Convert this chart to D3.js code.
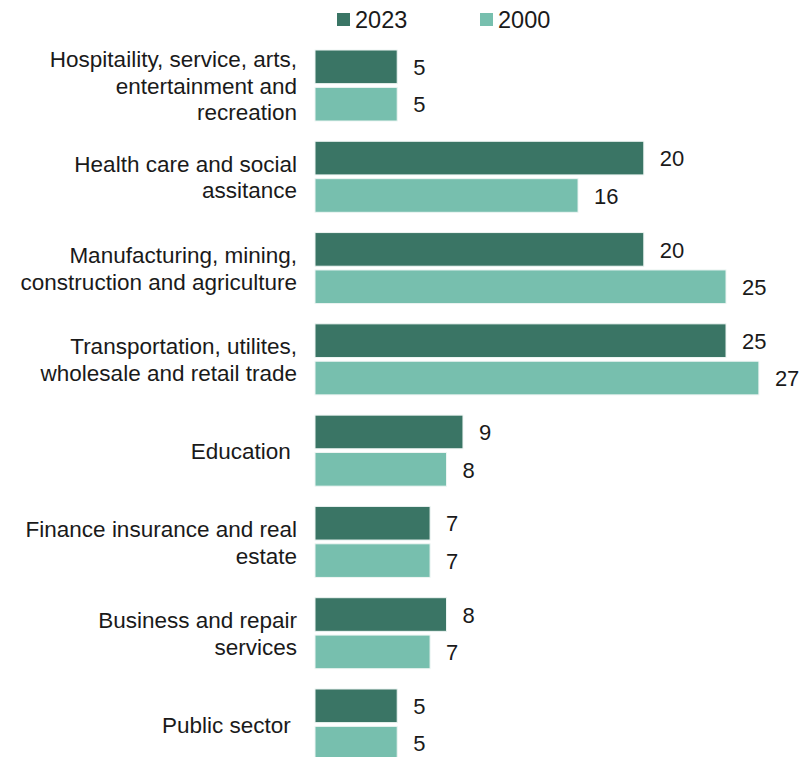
<!DOCTYPE html>
<html>
<head>
<meta charset="utf-8">
<script src="https://cdn.jsdelivr.net/npm/d3@7"></script>
<style>
  html, body { margin: 0; padding: 0; background: #fff; }
  svg { display: block; }
  text { font-family: "Liberation Sans", Arial, sans-serif; fill: #1a1a1a; white-space: pre; }
</style>
</head>
<body>
<svg id="chart" width="809" height="757"></svg>
<script>
// Industry categories, each split over several label lines
const categories = [
  "Hospitaility, service, arts,|entertainment and|recreation",
  "Health care and social|assitance",
  "Manufacturing, mining,|construction and agriculture",
  "Transportation, utilites,|wholesale and retail trade",
  "Education ",
  "Finance insurance and real|estate",
  "Business and repair|services",
  "Public sector "
];
const seriesNames = ["2023", "2000"];
const values2023 = [5, 20, 20, 25, 9, 7, 8, 5];
const values2000 = [5, 16, 25, 27, 8, 7, 7, 5];
const seriesColors = ["#3a7565", "#77bfae"];

const svg = d3.select("#chart");

const x = d3.scaleLinear().domain([0, 25]).range([315, 726]);

const y = d3.scaleBand()
  .domain(categories)
  .range([50, 760])
  .paddingInner(0.222)
  .paddingOuter(0);

const yInner = d3.scaleBand()
  .domain(seriesNames)
  .range([0, y.bandwidth()])
  .paddingInner(0.1);

const rows = categories.map((c, i) => ({
  cat: c,
  vals: [
    { s: "2023", v: values2023[i] },
    { s: "2000", v: values2000[i] }
  ]
}));

const color = d3.scaleOrdinal().domain(seriesNames).range(seriesColors);

const groups = svg.append("g").selectAll("g")
  .data(rows)
  .join("g")
  .attr("transform", d => `translate(0,${y(d.cat)})`);

groups.selectAll("rect")
  .data(d => d.vals)
  .join("rect")
  .attr("x", x(0))
  .attr("y", d => yInner(d.s))
  .attr("width", d => x(d.v) - x(0))
  .attr("height", yInner.bandwidth())
  .attr("fill", d => color(d.s))
  .attr("stroke", "#eef5f3")
  .attr("stroke-width", 1);

groups.selectAll("text.value")
  .data(d => d.vals)
  .join("text")
  .attr("class", "value")
  .attr("x", d => x(d.v) + 16)
  .attr("y", d => yInner(d.s) + yInner.bandwidth() / 2 + 0.5)
  .attr("dy", "0.35em")
  .attr("font-size", 22)
  .text(d => d.v);

// Category labels, right-aligned and vertically centred on each group
const lineH = 26.5;
groups.append("text")
  .attr("class", "cat")
  .attr("text-anchor", "end")
  .attr("font-size", 22.5)
  .each(function (d) {
    const lines = d.cat.split("|");
    const mid = y.bandwidth() / 2 + 0.5;
    const start = mid - (lines.length - 1) * lineH / 2;
    d3.select(this).selectAll("tspan")
      .data(lines)
      .join("tspan")
      .attr("x", 297)
      .attr("y", (l, i) => start + i * lineH)
      .attr("dy", "0.35em")
      .text(l => l);
  });

// Legend
const legend = svg.append("g");
const legendX = [337, 480];
seriesNames.forEach((s, i) => {
  legend.append("rect")
    .attr("x", legendX[i])
    .attr("y", 13)
    .attr("width", 13)
    .attr("height", 13)
    .attr("fill", color(s));
  legend.append("text")
    .attr("x", legendX[i] + 18)
    .attr("y", 19.5)
    .attr("dy", "0.35em")
    .attr("font-size", 23.5)
    .text(s);
});
</script>
</body>
</html>
